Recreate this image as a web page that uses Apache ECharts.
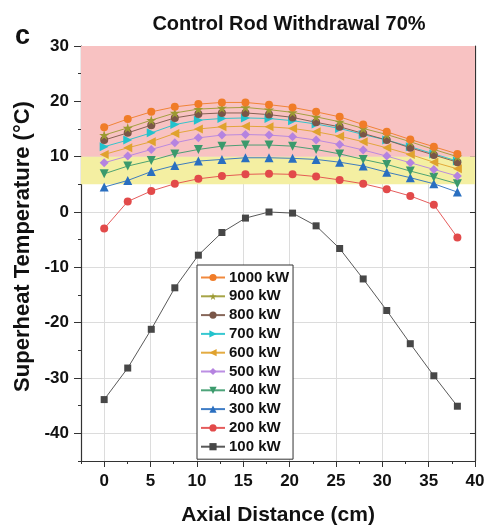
<!DOCTYPE html>
<html>
<head>
<meta charset="utf-8">
<script src="https://cdn.jsdelivr.net/npm/echarts@6/dist/echarts.min.js"></script>
<style>
html,body{margin:0;padding:0;background:#fff;}
#chart{width:490px;height:527px;}
</style>
</head>
<body>
<div id="chart"></div>
<script>
// ---- data ----
var axialDistance = [0, 2.54, 5.08, 7.62, 10.16, 12.7, 15.24, 17.78, 20.32, 22.86, 25.4, 27.94, 30.48, 33.02, 35.56, 38.1];
var seriesNames = ['1000 kW','900 kW','800 kW','700 kW','600 kW','500 kW','400 kW','300 kW','200 kW','100 kW'];
var t1000 = [15.3, 16.8, 18.1, 19.0, 19.5, 19.8, 19.8, 19.4, 18.9, 18.1, 17.2, 15.8, 14.5, 13.1, 11.8, 10.5];
var t900  = [13.9, 15.2, 16.6, 17.9, 18.6, 18.8, 18.9, 18.5, 18.0, 17.2, 16.3, 15.1, 14.0, 12.7, 11.3, 10.0];
var t800  = [13.0, 14.3, 15.7, 17.0, 17.7, 17.9, 17.9, 17.6, 17.1, 16.2, 15.4, 14.2, 13.0, 11.6, 10.3, 9.0];
var t700  = [11.8, 13.0, 14.3, 15.8, 16.6, 16.9, 17.0, 16.9, 16.5, 15.9, 15.1, 14.0, 13.0, 11.8, 10.5, 9.2];
var t600  = [10.4, 11.6, 12.7, 14.2, 15.0, 15.4, 15.5, 15.4, 15.1, 14.5, 13.7, 12.7, 11.6, 10.4, 9.0, 7.8];
var t500  = [8.9, 10.1, 11.3, 12.5, 13.4, 13.9, 14.0, 13.9, 13.6, 13.0, 12.2, 11.2, 10.1, 8.9, 7.7, 6.5];
var t400  = [6.9, 8.3, 9.3, 10.5, 11.3, 11.9, 12.1, 12.1, 11.9, 11.3, 10.5, 9.5, 8.6, 7.4, 6.3, 5.1];
var t300  = [4.5, 5.7, 7.3, 8.4, 9.2, 9.5, 9.8, 9.8, 9.7, 9.5, 9.0, 8.3, 7.2, 6.2, 5.1, 3.6];
var t200  = [-3.0, 1.9, 3.8, 5.1, 6.0, 6.5, 6.8, 6.9, 6.8, 6.4, 5.8, 5.1, 4.1, 2.9, 1.3, -4.6];
var t100  = [-33.9, -28.2, -21.2, -13.7, -7.8, -3.7, -1.1, 0.0, -0.2, -2.5, -6.6, -12.1, -17.8, -23.8, -29.6, -35.1];
var xTicks = [0, 5, 10, 15, 20, 25, 30, 35, 40];
var yTicks = [-40, -30, -20, -10, 0, 10, 20, 30];
var dangerBand = [10, 30];
var warnBand = [5, 10];

// ---- styles ----
var FONT = '"Liberation Sans", Arial, sans-serif';
var allValues = [t1000, t900, t800, t700, t600, t500, t400, t300, t200, t100];
var colors = ['#f07c28', '#9c9a32', '#7a5648', '#22c2cc', '#e0a22e', '#b583e0', '#3b9a6c', '#2a6fc0', '#e24a4a', '#474747'];
var starPath = 'path://M50,0 L61,35 L98,35 L68,57 L79,91 L50,70 L21,91 L32,57 L2,35 L39,35 Z';
var symbols = ['circle', starPath, 'circle', 'triangle', 'triangle', 'diamond', 'triangle', 'triangle', 'circle', 'rect'];
var rotates = [0, 0, 0, -90, 90, 0, 180, 0, 0, 0];
var sizes = [8, 10, 8, 9, 9, 9, 9, 9, 8, 7];

function pairs(vals) {
  return axialDistance.map(function (x, i) { return [x, vals[i]]; });
}

var series = [];
series.push({
  type: 'line', xAxisIndex: 0, yAxisIndex: 0, data: [], silent: true, z: 0,
  markArea: {
    silent: true,
    data: [
      [{ yAxis: dangerBand[0], itemStyle: { color: '#f8c2c2' } }, { yAxis: dangerBand[1] }],
      [{ yAxis: warnBand[0], itemStyle: { color: '#f4efa2' } }, { yAxis: warnBand[1] }]
    ]
  }
});
for (var k = seriesNames.length - 1; k >= 0; k--) {
  series.push({
    name: seriesNames[k],
    type: 'line',
    xAxisIndex: 0, yAxisIndex: 0,
    data: pairs(allValues[k]),
    symbol: symbols[k],
    symbolRotate: rotates[k],
    symbolSize: sizes[k],
    z: 3,
    lineStyle: { color: colors[k], width: 1, opacity: 0.9 },
    itemStyle: { color: colors[k], borderWidth: 0 },
    emphasis: { disabled: true },
    animation: false
  });
}

var axisLabelStyle = { fontFamily: FONT, fontWeight: 'bold', fontSize: 17, color: '#111' };

var option = {
  animation: false,
  backgroundColor: '#fff',
  title: [
    { text: 'Control Rod Withdrawal 70%', left: 284, top: 9, textAlign: 'center',
      textStyle: { fontFamily: FONT, fontWeight: 'bold', fontSize: 20, color: '#111' } },
    { text: 'c', left: 10, top: 18,
      textStyle: { fontFamily: FONT, fontWeight: 'bold', fontSize: 27, color: '#111' } }
  ],
  grid: { left: 81, right: 15, top: 46, bottom: 66, containLabel: false, outerBoundsMode: 'none' },
  legend: {
    data: seriesNames,
    orient: 'vertical',
    left: 197, top: 265,
    padding: [5, 4, 5, 3],
    itemGap: 3.8,
    itemWidth: 24,
    itemHeight: 9,
    backgroundColor: '#fff',
    borderColor: '#333',
    borderWidth: 1,
    borderRadius: 0,
    textStyle: { fontFamily: FONT, fontWeight: 'bold', fontSize: 15, color: '#111', padding: [0, 0, 0, -1] },
    selectedMode: false
  },
  xAxis: [
    {
      type: 'value', min: -2.5, max: 40, position: 'bottom',
      name: 'Axial Distance (cm)', nameLocation: 'middle', nameGap: 44,
      nameTextStyle: { fontFamily: FONT, fontWeight: 'bold', fontSize: 21, color: '#111' },
      axisLine: { show: true, onZero: false, lineStyle: { color: '#333', width: 1.2 } },
      axisTick: { show: true, inside: false, length: 6, customValues: xTicks, lineStyle: { color: '#333' } },
      axisLabel: Object.assign({ customValues: xTicks, margin: 12 }, axisLabelStyle),
      splitLine: { show: true, lineStyle: { color: '#dcdcdc', width: 1 } }
    },
    {
      type: 'value', min: -2.5, max: 40, interval: 2.5, position: 'bottom',
      axisLine: { show: false, onZero: false },
      axisTick: { show: true, inside: false, length: 3, lineStyle: { color: '#333' } },
      axisLabel: { show: false }, splitLine: { show: false }
    },
    {
      type: 'value', min: -2.5, max: 40, position: 'top',
      axisLine: { show: true, onZero: false, lineStyle: { color: '#333', width: 1.2 } },
      axisTick: { show: false }, axisLabel: { show: false }, splitLine: { show: false }
    }
  ],
  yAxis: [
    {
      type: 'value', min: -45, max: 30, position: 'left',
      name: 'Superheat Temperature (\u00B0C)', nameLocation: 'middle', nameGap: 44,
      nameTextStyle: { fontFamily: FONT, fontWeight: 'bold', fontSize: 22, color: '#111', padding: [0, 0, 0, 14] },
      axisLine: { show: true, onZero: false, lineStyle: { color: '#333', width: 1.2 } },
      axisTick: { show: true, inside: false, length: 7, customValues: yTicks, lineStyle: { color: '#333' } },
      axisLabel: Object.assign({ customValues: yTicks, margin: 12 }, axisLabelStyle),
      splitLine: { show: true, lineStyle: { color: '#dcdcdc', width: 1 } }
    },
    {
      type: 'value', min: -45, max: 30, interval: 5, position: 'left',
      axisLine: { show: false, onZero: false },
      axisTick: { show: true, inside: false, length: 3, lineStyle: { color: '#333' } },
      axisLabel: { show: false }, splitLine: { show: false }
    },
    {
      type: 'value', min: -45, max: 30, position: 'right',
      axisLine: { show: true, onZero: false, lineStyle: { color: '#333', width: 1.2 } },
      axisTick: { show: true, inside: true, length: 5, customValues: yTicks, lineStyle: { color: '#333' } },
      axisLabel: { show: false }, splitLine: { show: false }
    }
  ],
  series: series
};

var chart = echarts.init(document.getElementById('chart'), null, { renderer: 'canvas' });
chart.setOption(option);
</script>
</body>
</html>
